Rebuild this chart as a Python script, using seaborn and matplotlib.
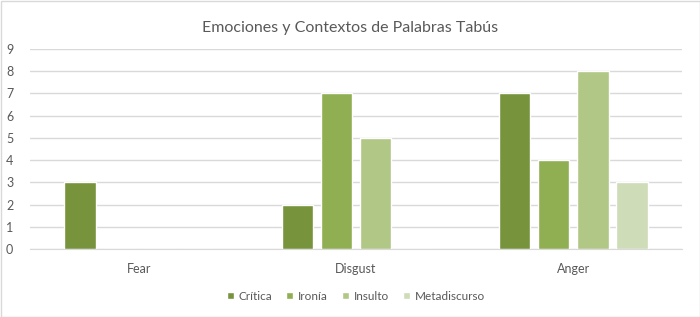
import numpy as np
import pandas as pd
import matplotlib
matplotlib.use('Agg')
import matplotlib.pyplot as plt
import seaborn as sns
from matplotlib.patches import Rectangle

emociones = ['Fear', 'Disgust', 'Anger']
contextos = ['Crítica', 'Ironía', 'Insulto', 'Metadiscurso']
critica = [3, 2, 7]
ironia = [0, 7, 4]
insulto = [0, 5, 8]
metadiscurso = [0, 0, 3]
colores = ['#77933C', '#8FAF52', '#B0C785', '#CEDCB7']

# long format for seaborn
df = pd.DataFrame({'Emocion': emociones * 4,
                   'Contexto': np.repeat(contextos, 3),
                   'Valor': critica + ironia + insulto + metadiscurso})

sns.set_style('white')
plt.rcParams['font.family'] = ['Lato', 'DejaVu Sans']

fig = plt.figure(figsize=(7, 3.17), dpi=100)
ax = fig.add_axes([30/700, 1-249/317, 652/700, 200/317])

sns.barplot(data=df, x='Emocion', y='Valor', hue='Contexto', order=emociones,
            hue_order=contextos, palette=colores, width=0.72, gap=0.2,
            saturation=1, ax=ax)

ax.set_ylim(0, 9)
ax.set_xlim(-0.5, 2.5)
ax.set_yticks(range(0, 10))
ax.yaxis.grid(True, color='#D9D9D9', linewidth=1)
ax.set_axisbelow(True)
for s in ['top', 'right', 'left']:
    ax.spines[s].set_visible(False)
ax.spines['bottom'].set_color('#D9D9D9')
ax.tick_params(axis='both', length=0, labelsize=9, labelcolor='#595959')
ax.tick_params(axis='x', pad=10)
ax.tick_params(axis='y', pad=12)
ax.set_xlabel('')
ax.set_ylabel('')

fig.suptitle('Emociones y Contextos de Palabras Tabús', y=1-28/317, va='center',
             fontsize=11.5, color='#595959')

leg = ax.legend(loc='center', bbox_to_anchor=(0.5, (296-249)/-200*1 + 0), ncol=4,
                frameon=False, fontsize=8.5, handlelength=0.6, handleheight=0.6,
                handletextpad=0.4, columnspacing=1.2)
for t in leg.get_texts():
    t.set_color('#595959')

fig.patches.append(Rectangle((0.5/700, 0.5/317), 1-1/700, 1-1/317, transform=fig.transFigure,
                             fill=False, edgecolor='#D9D9D9', linewidth=1))

fig.savefig('out.png', dpi=100)
